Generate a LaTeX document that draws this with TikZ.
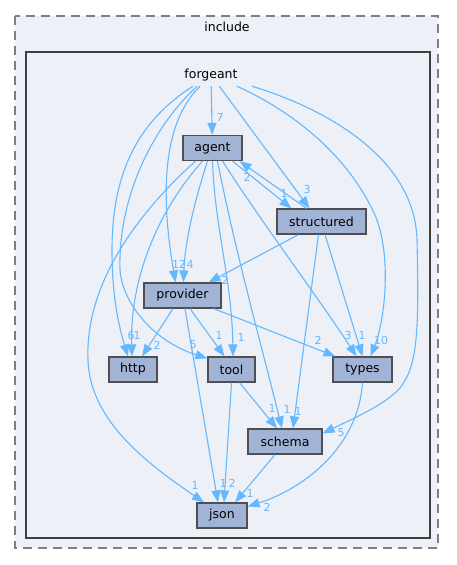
\documentclass[tikz,border=0pt]{standalone}
\usepackage{fontspec}
\setmainfont{DejaVu Sans}
\usetikzlibrary{arrows.meta}
\definecolor{edgec}{HTML}{63B8FF}
\definecolor{nodef}{HTML}{A2B4D6}
\definecolor{clf}{HTML}{EDF0F7}
\definecolor{nodeb}{HTML}{4F4F4F}
\definecolor{clb}{HTML}{404040}
\definecolor{dashc}{HTML}{7F7F7F}
\begin{document}
\begin{tikzpicture}[x=1pt,y=-1pt,
  dirbox/.style={draw=nodeb,fill=nodef,line width=1.2pt,inner sep=0pt,minimum height=25pt,font=\fontsize{12.5}{14}\selectfont},
  dep/.style={draw=edgec,line width=1.1pt,-{Triangle[length=12pt,width=9pt]}},
  lab/.style={text=edgec,font=\fontsize{11}{12}\selectfont,inner sep=0pt},
  title/.style={font=\fontsize{12.5}{14}\selectfont,inner sep=0pt}]
\useasboundingbox (0,0) rectangle (456,565);
\fill[white] (0,0) rectangle (456,565);
\draw[dashc,line width=1.5pt,dash pattern=on 9pt off 6pt,fill=clf] (15,16) rectangle (438,548);
\draw[clb,line width=2.2pt,fill=clf] (26,52) rectangle (430,538);
\node[title] (inc) at (227,27) {include};
\node[title,minimum height=22pt] (fg) at (211,75) {forgeant};
% directories
\node[dirbox,minimum width=59pt] (agent) at (212.5,148) {agent};
\node[dirbox,minimum width=89pt] (structured) at (321.5,221.5) {structured};
\node[dirbox,minimum width=77pt] (provider) at (182.5,295.5) {provider};
\node[dirbox,minimum width=48pt] (http) at (133,369.5) {http};
\node[dirbox,minimum width=47pt] (tool) at (231.5,369.5) {tool};
\node[dirbox,minimum width=59pt] (types) at (362.5,369.5) {types};
\node[dirbox,minimum width=74pt] (schema) at (285,441.5) {schema};
\node[dirbox,minimum width=50pt] (json) at (222,515.5) {json};
% from forgeant
\draw[dep] (fg) -- (agent);
\draw[dep] (fg) -- ([xshift=-12pt]structured.north);
\draw[dep] ([xshift=26pt]fg.south) .. controls (300,115) and (350,160) .. (375,215) .. controls (392,255) and (385,320) .. ([xshift=8pt]types.north);
\draw[dep] ([xshift=41pt]fg.south) .. controls (330,110) and (415,160) .. (417,240) .. controls (419,330) and (418,365) .. (400,388) .. controls (385,405) and (350,420) .. ([yshift=8pt]schema.east);
\draw[dep] ([xshift=-11pt]fg.south) .. controls (155,130) and (165,220) .. ([xshift=-7pt]provider.north);
\draw[dep] ([xshift=-18pt]fg.south) .. controls (140,120) and (112,170) .. (112,250) .. controls (112,300) and (120,330) .. ([xshift=-5pt]http.north);
\draw[dep] ([xshift=-14pt]fg.south) .. controls (150,130) and (118,200) .. (120,270) .. controls (122,300) and (150,340) .. ([yshift=-2pt]tool.north west);
% from agent
\draw[dep] ([xshift=-17pt]agent.south) .. controls (130,220) and (85,290) .. (88,360) .. controls (90,420) and (145,462) .. ([xshift=-18pt]json.north);
\draw[dep] ([xshift=-10pt]agent.south) .. controls (150,220) and (130,290) .. ([xshift=-1pt]http.north);
\draw[dep] ([xshift=-5pt]agent.south) .. controls (195,200) and (185,240) .. ([xshift=1pt]provider.north);
\draw[dep] (agent.south) .. controls (215,230) and (232,280) .. ([xshift=1.5pt]tool.north);
\draw[dep] ([xshift=5pt]agent.south) .. controls (235,250) and (260,340) .. ([xshift=-3pt]schema.north);
\draw[dep] ([xshift=10pt]agent.south) .. controls (260,220) and (320,300) .. ([xshift=-6pt]types.north);
\draw[dep] ([xshift=20pt]agent.south) -- ([xshift=-30pt]structured.north);
% from structured
\draw[dep] ([xshift=-15pt]structured.north) -- ([xshift=27pt]agent.south);
\draw[dep] ([xshift=-23pt]structured.south) -- ([xshift=26pt]provider.north);
\draw[dep] ([xshift=-3pt]structured.south) -- ([xshift=8pt]schema.north);
\draw[dep] ([xshift=3.5pt]structured.south) -- (types.north);
% from provider
\draw[dep] ([xshift=-9.5pt]provider.south) -- ([xshift=9pt]http.north);
\draw[dep] ([xshift=7.5pt]provider.south) -- ([xshift=-7pt]tool.north);
\draw[dep] ([xshift=2.5pt]provider.south) -- ([xshift=-4pt]json.north);
\draw[dep] ([xshift=-8pt]provider.south east) -- ([xshift=3pt]types.north west);
% from tool, schema, types
\draw[dep] ([xshift=8pt]tool.south) -- ([xshift=-8pt]schema.north);
\draw[dep] (tool.south) -- ([xshift=2pt]json.north);
\draw[dep] ([xshift=-10pt]schema.south) -- ([xshift=13pt]json.north);
\draw[dep] (types.south) .. controls (358,450) and (300,490) .. ([yshift=9pt]json.east);
% labels
\node[lab] (l1) at (220,117) {7};
\node[lab] (l2) at (307,189) {3};
\node[lab] (l3) at (284,193) {1};
\node[lab] (l4) at (247,177) {2};
\node[lab] (l5) at (179,264) {12};
\node[lab] (l6) at (190,264) {4};
\node[lab] (l7) at (225,280) {2};
\node[lab] (l8) at (131,335) {6};
\node[lab] (l9) at (137,335) {1};
\node[lab] (l10) at (157,345) {2};
\node[lab] (l11) at (193,345) {5};
\node[lab] (l12) at (219,335) {1};
\node[lab] (l13) at (241,337) {1};
\node[lab] (l14) at (318,340) {2};
\node[lab] (l15) at (348,335) {3};
\node[lab] (l16) at (362,335) {1};
\node[lab] (l17) at (381,340) {10};
\node[lab] (l18) at (272,408) {1};
\node[lab] (l19) at (287,409) {1};
\node[lab] (l20) at (298,411) {1};
\node[lab] (l21) at (341,433) {5};
\node[lab] (l22) at (195,485) {1};
\node[lab] (l23) at (223,483) {1};
\node[lab] (l24) at (232,483) {2};
\node[lab] (l25) at (250,493) {1};
\node[lab] (l26) at (267,507) {2};
\end{tikzpicture}
\end{document}
